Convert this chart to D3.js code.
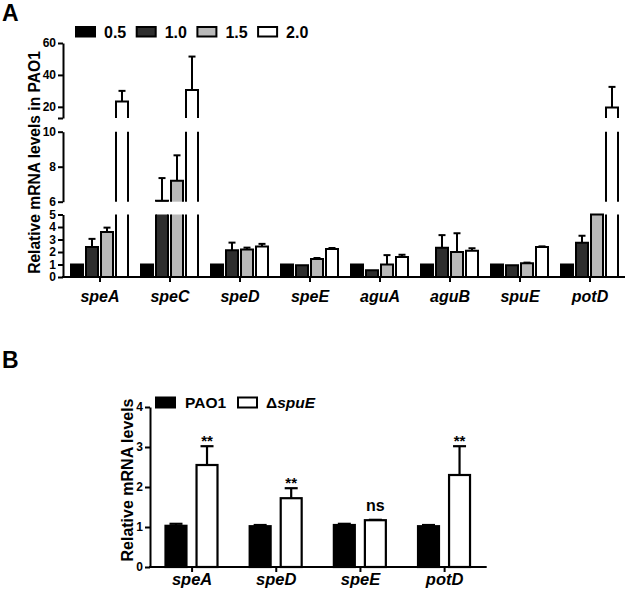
<!DOCTYPE html>
<html><head><meta charset="utf-8">
<script src="https://cdn.jsdelivr.net/npm/d3@7"></script>
<style>
body{margin:0;background:#fff}
svg{display:block}
text{font-family:Arial,"Liberation Sans",Helvetica,sans-serif;font-weight:bold;fill:#000}
</style>
</head><body>
<svg id="c" width="625" height="592"></svg>
<script>
// ---------- Panel A data ----------
const catsA = ["speA","speC","speD","speE","aguA","aguB","spuE","potD"];
const seriesA = ["0.5","1.0","1.5","2.0"];
const colorsA = ["#000000","#2e2e2e","#b9b9b9","#ffffff"];
const meanA05 = [1.0, 1.0, 1.0, 1.0, 1.0, 1.0, 1.0, 1.0];
const errA05  = [1.0, 1.0, 1.0, 1.0, 1.0, 1.0, 1.0, 1.0];
const meanA10 = [2.4, 6.05, 2.15, 0.95, 0.55, 2.35, 0.95, 2.75];
const errA10  = [3.05, 7.35, 2.75, 0.95, 0.55, 3.35, 0.95, 3.3];
const meanA15 = [3.6, 7.2, 2.2, 1.45, 1.0, 2.0, 1.1, 5.0];
const errA15  = [3.95, 8.65, 2.35, 1.52, 1.75, 3.5, 1.15, 5.0];
const meanA20 = [23.3, 30.5, 2.45, 2.25, 1.6, 2.1, 2.4, 19.6];
const errA20  = [30.0, 51.5, 2.65, 2.32, 1.78, 2.3, 2.45, 32.5];
const ticksA0 = [0,1,2,3,4,5];
const ticksA1 = [6,8,10];
const ticksA2 = [20,40,60];

// ---------- Panel B data ----------
const catsB = ["speA","speD","speE","potD"];
const seriesB = ["PAO1","ΔspuE"];
const colorsB = ["#000000","#ffffff"];
const meanB_PAO1 = [1.03, 1.02, 1.05, 1.02];
const errB_PAO1  = [1.08, 1.05, 1.08, 1.05];
const meanB_spuE = [2.55, 1.72, 1.17, 2.30];
const errB_spuE  = [3.02, 1.97, 1.18, 3.02];
const sigB = ["**","**","ns","**"];
const ticksB = [0,1,2,3,4];

const svg = d3.select("#c");
svg.append("rect").attr("width",625).attr("height",592).attr("fill","#fff");

// ================= Panel A =================
const gA = svg.append("g");
const xA = d3.scaleBand().domain(catsA).range([65,625]);
const xA1 = d3.scaleBand().domain(seriesA).range([6,63]).paddingInner(0.2);
const segs = [
  {d:[0,5],   r:[277,214.5], t:ticksA0},
  {d:[6,10],  r:[201.7,131.7], t:ticksA1},
  {d:[13,60], r:[118,43], t:ticksA2}
];
segs.forEach(s => s.y = d3.scaleLinear().domain(s.d).range(s.r));

const meansA = [meanA05, meanA10, meanA15, meanA20];
const errsA = [errA05, errA10, errA15, errA20];
const rowsA = [];
catsA.forEach((c,i) => seriesA.forEach((s,j) => rowsA.push({cat:c, ser:s, v:meansA[j][i], e:errsA[j][i], col:colorsA[j]})));

const axisX0 = 63;
segs.forEach(s => {
  const lo0 = s.d[0], hi0 = s.d[1];
  rowsA.forEach(r => {
    const bx = xA(r.cat) + xA1(r.ser), bw = xA1.bandwidth();
    const lo = lo0, hi = Math.min(r.v, hi0);
    if (hi > lo) {
      const y0 = s.y(lo), y1 = s.y(hi);
      gA.append("rect").attr("x",bx).attr("y",y1).attr("width",bw).attr("height",y0-y1).attr("fill",r.col);
      const capped = r.v <= hi0;
      const d = `M${bx},${y0}V${y1}` + (capped ? `H${bx+bw}` : `M${bx+bw},${y1}`) + `V${y0}`;
      gA.append("path").attr("d",d).attr("fill","none").attr("stroke","#000").attr("stroke-width",2);
    }
    if (r.e > r.v) {
      const elo = Math.max(r.v, lo0), ehi = Math.min(r.e, hi0);
      if (ehi > elo) {
        const cx = bx + bw/2;
        gA.append("line").attr("x1",cx).attr("x2",cx).attr("y1",s.y(elo)).attr("y2",s.y(ehi)).attr("stroke","#000").attr("stroke-width",2);
        if (r.e <= hi0) gA.append("line").attr("x1",cx-3.5).attr("x2",cx+3.5).attr("y1",s.y(ehi)).attr("y2",s.y(ehi)).attr("stroke","#000").attr("stroke-width",2);
      }
    }
  });
  const tv = Array.from(new Set([...s.t, s.d[0], s.d[1]]));
  const ax = gA.append("g").attr("transform",`translate(${axisX0},0)`)
    .call(d3.axisLeft(s.y).tickValues(tv).tickSize(5).tickSizeOuter(0).tickPadding(2)
      .tickFormat(v => s.t.includes(v) ? v : ""));
  ax.select(".domain").attr("stroke-width",2);
  ax.selectAll(".tick line").attr("stroke-width",2);
  ax.selectAll("text").style("font-size","12px").attr("font-family",null);
});

// x axis A
const xaA = gA.append("g").attr("transform","translate(0,277)")
  .call(d3.axisBottom(xA).tickSize(5).tickSizeOuter(0).tickPadding(9));
xaA.select(".domain").remove();
xaA.selectAll(".tick line").attr("stroke-width",2);
xaA.selectAll("text").style("font-size","16px").style("font-style","italic").attr("font-family",null);
gA.append("line").attr("x1",axisX0-1).attr("x2",xA.range()[1]).attr("y1",277).attr("y2",277).attr("stroke","#000").attr("stroke-width",2);

// y label A
gA.append("text").attr("transform","translate(39.5,162.5) rotate(-90)").attr("text-anchor","middle")
  .style("font-size","15.6px").text("Relative mRNA levels in PAO1");

// legend A
seriesA.forEach((s,j) => {
  const lx = 75 + j*60.7;
  gA.append("rect").attr("x",lx+1).attr("y",27).attr("width",19).attr("height",9.5)
    .attr("fill",colorsA[j]).attr("stroke","#000").attr("stroke-width",2);
  gA.append("text").attr("x",lx+29).attr("y",37.5).style("font-size","16px").text(s);
});

svg.append("text").attr("x",2).attr("y",21).style("font-size","23px").text("A");
svg.append("text").attr("x",2).attr("y",368).style("font-size","23px").text("B");

// ================= Panel B =================
const gB = svg.append("g");
const xB = d3.scaleBand().domain(catsB).range([150,486.7]);
const xB1 = d3.scaleBand().domain(seriesB).range([14.5,68.5]).paddingInner(0.26);
const yB = d3.scaleLinear().domain([0,4]).range([567,407]);
const meansB = [meanB_PAO1, meanB_spuE];
const errsB = [errB_PAO1, errB_spuE];
catsB.forEach((c,i) => seriesB.forEach((s,j) => {
  const bx = xB(c) + xB1(s), bw = xB1.bandwidth();
  const v = meansB[j][i], e = errsB[j][i];
  const cx = bx + bw/2;
  if (e > v) {
    gB.append("line").attr("x1",cx).attr("x2",cx).attr("y1",yB(v)).attr("y2",yB(e)).attr("stroke","#000").attr("stroke-width",2.2);
    gB.append("line").attr("x1",cx-6.5).attr("x2",cx+6.5).attr("y1",yB(e)).attr("y2",yB(e)).attr("stroke","#000").attr("stroke-width",2.2);
  }
  gB.append("rect").attr("x",bx+1).attr("y",yB(v)).attr("width",bw-2).attr("height",yB(0)-yB(v))
    .attr("fill",colorsB[j]).attr("stroke","#000").attr("stroke-width",2.2);
  if (j === 1) {
    const isNs = sigB[i] === "ns";
    gB.append("text").attr("x",cx).attr("y", isNs ? yB(e)-8.5 : yB(e)-0.5).attr("text-anchor","middle")
      .style("font-size", isNs ? "16px" : "15px").text(sigB[i]);
  }
}));

const yaB = gB.append("g").attr("transform","translate(150,0)")
  .call(d3.axisLeft(yB).tickValues(ticksB).tickSize(5).tickSizeOuter(0).tickPadding(2).tickFormat(d3.format("d")));
yaB.select(".domain").attr("stroke-width",2);
yaB.selectAll(".tick line").attr("stroke-width",2);
yaB.selectAll("text").style("font-size","12px").attr("font-family",null);

const xaB = gB.append("g").attr("transform","translate(0,567)")
  .call(d3.axisBottom(xB).tickSize(5).tickSizeOuter(0).tickPadding(1.5));
xaB.select(".domain").remove();
xaB.selectAll(".tick line").attr("stroke-width",2);
xaB.selectAll("text").style("font-size","16.5px").style("font-style","italic").attr("font-family",null);
gB.append("line").attr("x1",149).attr("x2",486.7).attr("y1",567).attr("y2",567).attr("stroke","#000").attr("stroke-width",2);

gB.append("text").attr("transform","translate(133,480) rotate(-90)").attr("text-anchor","middle")
  .style("font-size","16px").text("Relative mRNA levels");

// legend B
gB.append("rect").attr("x",156).attr("y",397.5).attr("width",19).attr("height",10).attr("fill",colorsB[0]).attr("stroke","#000").attr("stroke-width",2);
gB.append("text").attr("x",185).attr("y",408).style("font-size","15.5px").text(seriesB[0]);
gB.append("rect").attr("x",238).attr("y",397.5).attr("width",19).attr("height",10).attr("fill",colorsB[1]).attr("stroke","#000").attr("stroke-width",2);
const lt = gB.append("text").attr("x",266).attr("y",408).style("font-size","15.5px");
lt.append("tspan").text("Δ");
lt.append("tspan").style("font-style","italic").text("spuE");
</script>
</body></html>
